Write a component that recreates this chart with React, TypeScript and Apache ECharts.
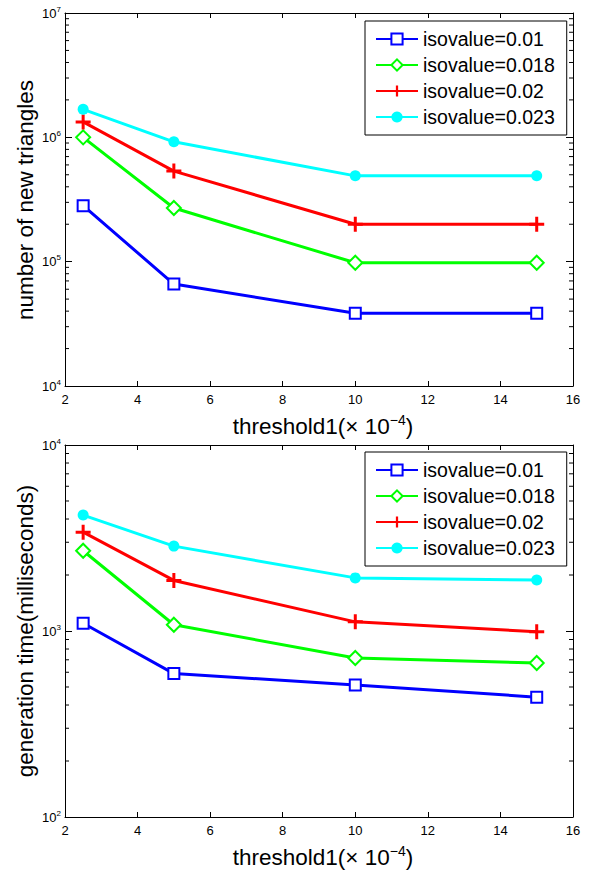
import React, { useEffect, useRef } from "react";
import * as echarts from "echarts";

const xValues = [2.5, 5, 10, 15];
const seriesNames = ["isovalue=0.01", "isovalue=0.018", "isovalue=0.02", "isovalue=0.023"];

const triangles001 = [2.82e5, 6.6e4, 3.85e4, 3.85e4];
const triangles0018 = [1.0e6, 2.7e5, 9.8e4, 9.8e4];
const triangles002 = [1.33e6, 5.35e5, 2.0e5, 2.0e5];
const triangles0023 = [1.68e6, 9.2e5, 4.9e5, 4.9e5];

const time001 = [1100, 590, 513, 441];
const time0018 = [2700, 1080, 716, 673];
const time002 = [3400, 1870, 1120, 990];
const time0023 = [4200, 2860, 1930, 1880];

const xTickInterval = 2;
const xMin = 2;
const xMax = 16;
const topYMin = 1e4;
const topYMax = 1e7;
const bottomYMin = 1e2;
const bottomYMax = 1e4;
const minorMultipliers = [2, 3, 4, 5, 6, 7, 8, 9];
const topDecades = [1e4, 1e5, 1e6];
const bottomDecades = [1e2, 1e3];

const FONT = '"Liberation Sans", Arial, Helvetica, sans-serif';
const colors = ["#0000ff", "#00ff00", "#ff0000", "#00ffff"];
const plusPath = "path://M4,0H6V4H10V6H6V10H4V6H0V4H4Z";
const symbols = ["emptyRect", "emptyDiamond", plusPath, "circle"];
const symbolSizes = [11, 14, 15, 11];

function minorValues(decades: number[]) {
  const out: number[][] = [];
  decades.forEach((d) => minorMultipliers.forEach((m) => out.push([xMin, m * d])));
  return out;
}

export default function App() {
  const ref = useRef<HTMLDivElement>(null);
  useEffect(() => {
    if (!ref.current) return;
    const chart = echarts.init(ref.current, null, { renderer: "svg" });

    const grids = [
      { left: 65, top: 13, width: 508, height: 373 },
      { left: 65, top: 445, width: 508, height: 372 },
    ];

    const xAxisBase = (gi: number, pos: string, labels: boolean) => ({
      gridIndex: gi,
      type: "value",
      position: pos,
      min: xMin,
      max: xMax,
      interval: xTickInterval,
      axisLine: { show: true, onZero: false, lineStyle: { color: "#000", width: 1 } },
      axisTick: { show: true, inside: true, length: 5, lineStyle: { color: "#000" } },
      axisLabel: { show: labels, color: "#000", fontSize: 13, fontFamily: FONT, margin: 7 },
      splitLine: { show: false },
    });

    const yAxisBase = (gi: number, pos: string, labels: boolean, min: number, max: number) => ({
      gridIndex: gi,
      type: "log",
      logBase: 10,
      position: pos,
      min,
      max,
      axisLine: { show: true, onZero: false, lineStyle: { color: "#000", width: 1 } },
      axisTick: { show: true, inside: true, length: 7, lineStyle: { color: "#000" } },
      axisLabel: {
        show: labels,
        color: "#000",
        fontSize: 13,
        fontFamily: FONT,
        margin: 4,
        lineHeight: 16,
        formatter: (v: number) => "10{sup|" + Math.round(Math.log10(v)) + "}",
        rich: { sup: { fontSize: 8, lineHeight: 8, verticalAlign: "top", fontFamily: FONT, color: "#000" } },
      },
      splitLine: { show: false },
    });

    const topData = [triangles001, triangles0018, triangles002, triangles0023];
    const bottomData = [time001, time0018, time002, time0023];

    const lineSeries = (gi: number, data: number[][]) =>
      data.map((vals, i) => ({
        type: "line",
        name: seriesNames[i],
        xAxisIndex: gi * 2,
        yAxisIndex: gi * 2,
        data: xValues.map((x, j) => [x, vals[j]]),
        symbol: symbols[i],
        symbolSize: symbolSizes[i],
        showAllSymbol: true,
        lineStyle: { color: colors[i], width: 3 },
        itemStyle: { color: colors[i], borderColor: colors[i], borderWidth: i < 2 ? 2.5 : 0 },
        emphasis: { disabled: true },
        z: 3,
      }));

    const minorSeries = (gi: number, decades: number[]) => ({
      type: "custom",
      xAxisIndex: gi * 2,
      yAxisIndex: gi * 2,
      silent: true,
      clip: false,
      encode: { x: 0, y: 1 },
      data: minorValues(decades),
      renderItem: (_p: any, api: any) => {
        const v = api.value(1);
        const l = api.coord([xMin, v]);
        const r = api.coord([xMax, v]);
        return {
          type: "group",
          children: [
            { type: "line", shape: { x1: l[0], y1: l[1], x2: l[0] + 4, y2: l[1] }, style: { stroke: "#000", lineWidth: 1 } },
            { type: "line", shape: { x1: r[0] - 4, y1: r[1], x2: r[0], y2: r[1] }, style: { stroke: "#000", lineWidth: 1 } },
          ],
        };
      },
    });

    const legendBase = (top: number) => ({
      orient: "vertical",
      left: 365,
      top,
      data: seriesNames,
      itemWidth: 42,
      itemHeight: 14,
      itemGap: 6,
      padding: [8, 12, 8, 10],
      backgroundColor: "#fff",
      borderColor: "#000",
      borderWidth: 1,
      borderRadius: 0,
      selectedMode: false,
      textStyle: { color: "#000", fontSize: 19.5, fontFamily: FONT },
    });

    const supRich = { sup: { fontSize: 14, lineHeight: 12, verticalAlign: "top", fontFamily: FONT, fill: "#000" } };

    const option: any = {
      animation: false,
      backgroundColor: "#fff",
      grid: grids,
      xAxis: [xAxisBase(0, "bottom", true), xAxisBase(0, "top", false), xAxisBase(1, "bottom", true), xAxisBase(1, "top", false)],
      yAxis: [
        yAxisBase(0, "left", true, topYMin, topYMax),
        yAxisBase(0, "right", false, topYMin, topYMax),
        yAxisBase(1, "left", true, bottomYMin, bottomYMax),
        yAxisBase(1, "right", false, bottomYMin, bottomYMax),
      ],
      legend: [legendBase(21), legendBase(452)],
      series: [
        ...lineSeries(0, topData),
        ...lineSeries(1, bottomData),
        minorSeries(0, topDecades),
        minorSeries(1, bottomDecades),
      ],
      graphic: [
        {
          type: "text",
          x: 25,
          y: 200,
          rotation: Math.PI / 2,
          style: { text: "number of new triangles", fontSize: 22.5, fontFamily: FONT, fill: "#000", align: "center", verticalAlign: "middle" },
        },
        {
          type: "text",
          x: 25,
          y: 631,
          rotation: Math.PI / 2,
          style: { text: "generation time(milliseconds)", fontSize: 22.5, fontFamily: FONT, fill: "#000", align: "center", verticalAlign: "middle" },
        },
        {
          type: "text",
          x: 323,
          y: 426,
          style: { text: "threshold1(× 10{sup|−4})", fontSize: 22.5, lineHeight: 26, fontFamily: FONT, fill: "#000", align: "center", verticalAlign: "middle", rich: supRich },
        },
        {
          type: "text",
          x: 323,
          y: 857,
          style: { text: "threshold1(× 10{sup|−4})", fontSize: 22.5, lineHeight: 26, fontFamily: FONT, fill: "#000", align: "center", verticalAlign: "middle", rich: supRich },
        },
      ],
    };

    chart.setOption(option);
    return () => chart.dispose();
  }, []);

  return <div ref={ref} style={{ position: "absolute", left: 0, top: 0, width: 593, height: 872 }} />;
}
